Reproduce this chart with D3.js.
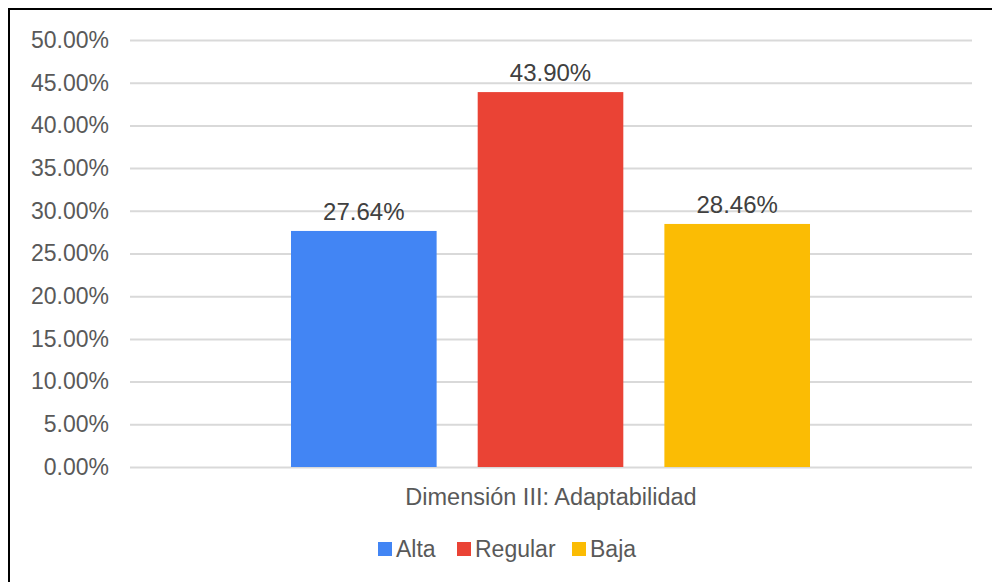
<!DOCTYPE html>
<html><head><meta charset="utf-8">
<script src="https://cdn.jsdelivr.net/npm/d3@7"></script>
<style>body{margin:0;background:#fff}svg{display:block}</style>
</head><body>
<svg id="c" width="992" height="582"></svg>
<script>
const category = "Dimensión III: Adaptabilidad";
const seriesNames = ["Alta", "Regular", "Baja"];
const seriesValues = [27.64, 43.90, 28.46];
const seriesColors = ["#4285F4", "#EA4335", "#FBBC04"];
const yTicks = [0, 5, 10, 15, 20, 25, 30, 35, 40, 45, 50];

(function(){
const svg = d3.select("#c");
const font = "Liberation Sans, Arial, sans-serif";
svg.append("rect").attr("width",992).attr("height",582).attr("fill","#fff");
svg.append("rect").attr("x",9).attr("y",9).attr("width",1000).attr("height",600)
  .attr("fill","none").attr("stroke","#000").attr("stroke-width",2);

const pLeft=130, pRight=972, pTop=40, pBottom=467;
const y = d3.scaleLinear().domain([0,50]).range([pBottom, pTop]);
const x0 = d3.scaleBand().domain([category]).range([pLeft,pRight]);
const x1 = d3.scaleBand().domain(seriesNames).range([291-x0(category), 810-x0(category)]).paddingInner(0.22);

const yAxis = svg.append("g").attr("transform",`translate(${pLeft},0)`)
  .call(d3.axisLeft(y).tickValues(yTicks).tickSize(-(pRight-pLeft)).tickFormat(d=>d.toFixed(2)+"%"));
yAxis.select(".domain").remove();
yAxis.selectAll(".tick line").attr("stroke","#d9d9d9").attr("stroke-width",2);
yAxis.selectAll(".tick text").attr("x",-21).attr("fill","#595959")
  .style("font-family",font).style("font-size","23px");

const g = svg.append("g").attr("transform",`translate(${x0(category)},0)`);
g.selectAll("rect.bar").data(seriesValues).join("rect").attr("class","bar")
  .attr("x",(d,i)=>x1(seriesNames[i])).attr("width",x1.bandwidth())
  .attr("y",d=>y(d)).attr("height",d=>pBottom-y(d)).attr("fill",(d,i)=>seriesColors[i]);
g.selectAll("text.lbl").data(seriesValues).join("text").attr("class","lbl")
  .attr("x",(d,i)=>x1(seriesNames[i])+x1.bandwidth()/2).attr("y",d=>y(d)-11)
  .attr("text-anchor","middle").attr("fill","#404040")
  .style("font-family",font).style("font-size","24px").text(d=>d.toFixed(2)+"%");

svg.append("text").attr("x",x0(category)+x0.bandwidth()/2).attr("y",505)
  .attr("text-anchor","middle").attr("fill","#595959")
  .style("font-family",font).style("font-size","23.5px").text(category);

const legendX=[378, 457, 572];
const lg = svg.append("g");
seriesNames.forEach((n,i)=>{
  lg.append("rect").attr("x",legendX[i]).attr("y",542).attr("width",14).attr("height",14).attr("fill",seriesColors[i]);
  lg.append("text").attr("x",legendX[i]+18).attr("y",557).attr("fill","#595959")
    .style("font-family",font).style("font-size","23px").text(n);
});
})();
</script>
</body></html>
